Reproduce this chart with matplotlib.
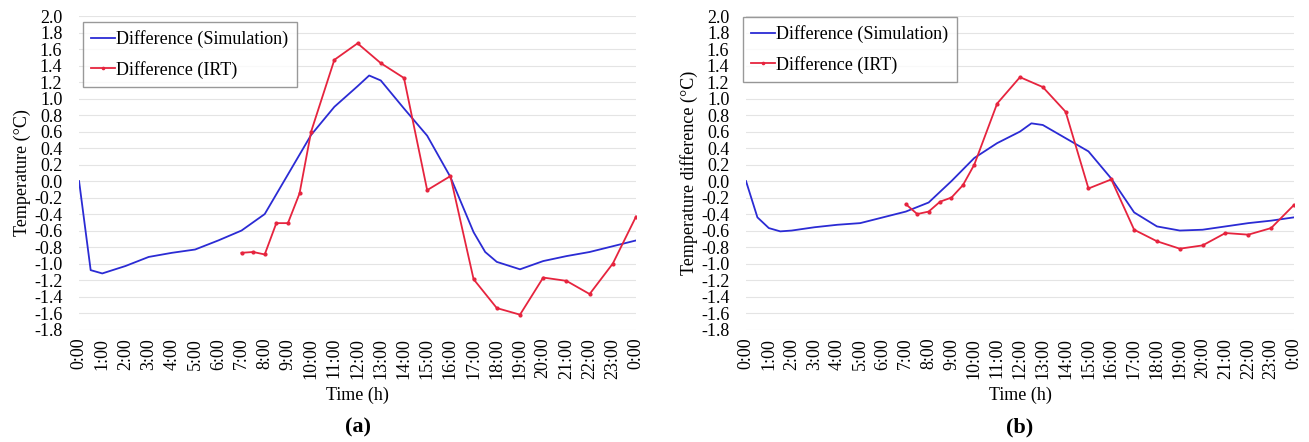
import matplotlib.pyplot as plt
import numpy as np

# Panel (a) data
sim_a_t = [0, 0.5, 1, 2, 3, 4, 5, 6, 7, 8, 9, 10, 11, 12, 12.5, 13, 14, 15, 16,
           17, 17.5, 18, 19, 20, 21, 22, 23, 24]
sim_a = [0.0, -1.08, -1.12, -1.03, -0.92, -0.87, -0.83, -0.72, -0.60, -0.40, 0.08,
         0.56, 0.90, 1.15, 1.28, 1.22, 0.88, 0.55, 0.05,
         -0.62, -0.86, -0.98, -1.07, -0.97, -0.91, -0.86, -0.79, -0.72]
irt_a_t = [7, 7.5, 8, 8.5, 9, 9.5, 10, 11, 12, 13, 14, 15, 16, 17, 18, 19, 20, 21, 22, 23, 24]
irt_a = [-0.87, -0.86, -0.89, -0.51, -0.51, -0.15, 0.60, 1.47, 1.67, 1.43, 1.25,
         -0.11, 0.06, -1.19, -1.54, -1.62, -1.17, -1.21, -1.37, -1.00, -0.43]

# Panel (b) data
sim_b_t = [0, 0.5, 1, 1.5, 2, 3, 4, 5, 6, 7, 8, 9, 10, 11, 12, 12.5, 13, 14, 15, 16,
           17, 18, 19, 20, 21, 22, 23, 24]
sim_b = [0.0, -0.44, -0.57, -0.61, -0.60, -0.56, -0.53, -0.51, -0.44, -0.37, -0.26,
         0.0, 0.28, 0.46, 0.60, 0.70, 0.68, 0.52, 0.36, 0.03,
         -0.38, -0.55, -0.60, -0.59, -0.55, -0.51, -0.48, -0.44]
irt_b_t = [7, 7.5, 8, 8.5, 9, 9.5, 10, 11, 12, 13, 14, 15, 16, 17, 18, 19, 20, 21, 22, 23, 24]
irt_b = [-0.28, -0.40, -0.37, -0.25, -0.20, -0.05, 0.20, 0.94, 1.26, 1.14, 0.84,
         -0.09, 0.02, -0.59, -0.73, -0.82, -0.78, -0.63, -0.65, -0.57, -0.29]

hour_labels = ["{}:00".format(h % 24) for h in range(25)]
y_ticks = [round(-1.8 + 0.2 * i, 1) for i in range(20)]

blue = "#2b2bd4"
red = "#e6243e"

plt.rcParams["font.family"] = ["Liberation Serif", "DejaVu Serif"]

fig = plt.figure(figsize=(13.09, 4.42), dpi=100)

panels = [
    dict(rect=[0.0604, 0.2545, 0.4255, 0.709], st=sim_a_t, sv=sim_a, it=irt_a_t, iv=irt_a,
         ylabel="Temperature (°C)", tag="(a)", leg=(83 / 1309, 1 - 22 / 442)),
    dict(rect=[0.5699, 0.2545, 0.4186, 0.709], st=sim_b_t, sv=sim_b, it=irt_b_t, iv=irt_b,
         ylabel="Temperature difference (°C)", tag="(b)", leg=(743 / 1309, 1 - 17 / 442)),
]

for p in panels:
    ax = fig.add_axes(p["rect"])
    ax.plot(p["st"], p["sv"], color=blue, lw=1.3, label="Difference (Simulation)")
    ax.plot(p["it"], p["iv"], color=red, lw=1.3, marker="o", ms=2,
            label="Difference (IRT)")
    ax.set_xlim(0, 24)
    ax.set_ylim(-1.8, 2.0)
    ax.set_yticks(y_ticks)
    ax.set_yticklabels(["{:.1f}".format(v + 0.0) if abs(v) > 1e-9 else "0.0" for v in y_ticks])
    ax.set_xticks(range(25))
    ax.set_xticklabels(hour_labels, rotation=90)
    ax.tick_params(axis="y", length=0, pad=12, labelsize=13)
    ax.tick_params(axis="x", length=0, pad=6, labelsize=13)
    ax.grid(axis="y", color="#e4e4e4", lw=0.8)
    ax.set_axisbelow(True)
    for s in ax.spines.values():
        s.set_visible(False)
    ax.set_ylabel(p["ylabel"], fontsize=13, labelpad=2)
    ax.set_xlabel("Time (h)", fontsize=13, labelpad=6)
    # panel tag, centred under its panel
    fig.text(p["rect"][0] + p["rect"][2] / 2, 1 - 427 / 442, p["tag"], ha="center",
             va="center", fontsize=16, fontweight="bold")
    leg = ax.legend(loc="upper left", bbox_to_anchor=p["leg"], bbox_transform=fig.transFigure,
                    fontsize=13, frameon=True, fancybox=False, handlelength=1.3,
                    handletextpad=0.1, labelspacing=0.7, borderpad=0.45,
                    borderaxespad=0, markerscale=0.8)
    leg.get_frame().set_edgecolor("#808080")
    leg.get_frame().set_linewidth(1.0)

fig.savefig("out.png", dpi=100)
